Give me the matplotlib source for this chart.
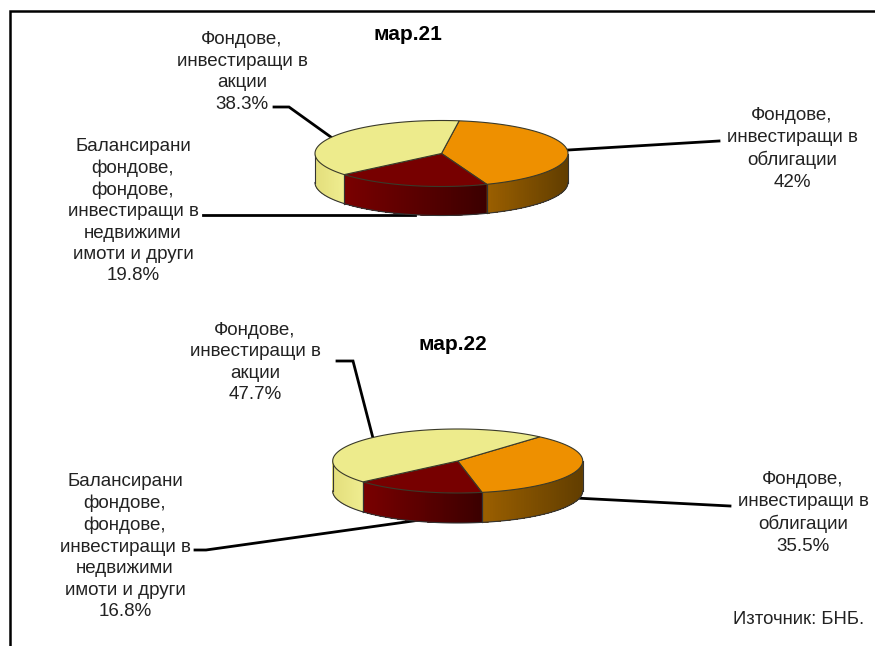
import matplotlib
matplotlib.use("Agg")
import matplotlib.pyplot as plt
import numpy as np
from matplotlib.colors import to_rgb
from matplotlib.patches import Polygon

plt.rcParams['font.family'] = ['Liberation Sans', 'DejaVu Sans']

# Shares per period (bonds, balanced and other, equity)
categories = ["Фондове,\nинвестиращи в\nоблигации",
              "Балансирани\nфондове,\nфондове,\nинвестиращи в\nнедвижими\nимоти и други",
              "Фондове,\nинвестиращи в\nакции"]
mar21_values = [42, 19.8, 38.3]
mar22_values = [35.5, 16.8, 47.7]
mar21_labels = ["42%", "19.8%", "38.3%"]
mar22_labels = ["35.5%", "16.8%", "47.7%"]

top_colors = ["#EE9000", "#770000", "#EDEB8C"]
# side colours go from the left end of the wall to the right end
side_colors = [("#9C6000", "#623E00"), ("#7A0000", "#3C0000"), ("#E3DE7C", "#EFED90")]

fig = plt.figure(figsize=(8.75, 6.46), dpi=100)
ax = fig.add_axes([0, 0, 1, 1])
ax.set_xlim(0, 875)
ax.set_ylim(646, 0)
ax.axis("off")


def ellipse_pts(cx, cy, rx, ry, angles):
    # angles in degrees, clockwise from the top
    t = np.radians(angles)
    return cx + rx * np.sin(t), cy - ry * np.cos(t)


def draw_pie(values, start, cx, cy, rx, ry, depth):
    shares = np.array(values) / sum(values) * 360
    edges = start + np.concatenate([[0], np.cumsum(shares)])
    # front wall first, only the part between 90 and 270 degrees shows
    for i in range(3):
        a0, a1 = max(edges[i], 90), min(edges[i + 1], 270)
        if a1 > a0:
            ang = np.linspace(a0, a1, 61)
            x, y = ellipse_pts(cx, cy, rx, ry, ang)
            # paint from the right end so each strip is overlapped by the next
            order = np.argsort(-x)
            x, y = x[order], y[order]
            left = to_rgb(side_colors[i][0])
            right = to_rgb(side_colors[i][1])
            for j in range(len(x) - 1):
                f = (x[j] - x.min()) / (x.max() - x.min())
                col = tuple(left[k] + (right[k] - left[k]) * f for k in range(3))
                pts = list(zip(x[j:], y[j:])) + list(zip(x[j:][::-1], y[j:][::-1] + depth))
                ax.add_patch(Polygon(pts, facecolor=col, edgecolor="none", zorder=2))
            ax.plot(x, y + depth, color="#333333", lw=0.8, zorder=3)
            ax.plot([x[0], x[0]], [y[0], y[0] + depth], color="#333333", lw=0.8, zorder=3)
            ax.plot([x[-1], x[-1]], [y[-1], y[-1] + depth], color="#333333", lw=0.8, zorder=3)
    # top face
    for i in range(3):
        ang = np.linspace(edges[i], edges[i + 1], 120)
        x, y = ellipse_pts(cx, cy, rx, ry, ang)
        pts = [(cx, cy)] + list(zip(x, y))
        ax.add_patch(Polygon(pts, closed=True, facecolor=top_colors[i],
                             edgecolor="#3a3a2a", lw=0.8, zorder=4))


# black frame, only top and left are in the picture
ax.plot([9.5, 9.5, 875], [646, 10.5, 10.5], color="black", lw=1.8, zorder=1,
        solid_joinstyle="miter")

# leader lines sit behind the pies
line_style = dict(color="black", lw=2.0, zorder=1.5, solid_joinstyle="miter")
ax.plot([274, 289, 335], [107, 107, 140], **line_style)
ax.plot([560, 719], [150.5, 141], **line_style)
ax.plot([203, 415], [215, 215], **line_style)
ax.plot([337, 353, 374], [361, 361, 442], **line_style)
ax.plot([575, 730], [498, 506], **line_style)
ax.plot([195, 206, 420], [550, 550, 520], **line_style)

draw_pie(mar21_values, 8, 441.5, 153.5, 126.5, 33, 29)
draw_pie(mar22_values, 41, 457.7, 461, 125, 32, 30)

text_style = dict(ha="center", va="center", fontsize=13.5, color="#222222",
                  linespacing=1.34, zorder=6)
ax.text(792, 149, categories[0] + "\n" + mar21_labels[0], **text_style)
ax.text(133, 211, categories[1] + "\n" + mar21_labels[1], **text_style)
ax.text(242, 72, categories[2] + "\n" + mar21_labels[2], **text_style)
ax.text(803, 513, categories[0] + "\n" + mar22_labels[0], **text_style)
ax.text(125, 546.5, categories[1] + "\n" + mar22_labels[1], **text_style)
ax.text(255, 362.5, categories[2] + "\n" + mar22_labels[2], **text_style)

ax.text(408, 34, "мар.21", ha="center", va="center", fontsize=15, fontweight="bold", color="black")
ax.text(453, 345, "мар.22", ha="center", va="center", fontsize=15, fontweight="bold", color="black")
ax.text(799, 619, "Източник: БНБ.", ha="center", va="center", fontsize=13.3, color="#222222")

fig.savefig("out.png", dpi=100)
